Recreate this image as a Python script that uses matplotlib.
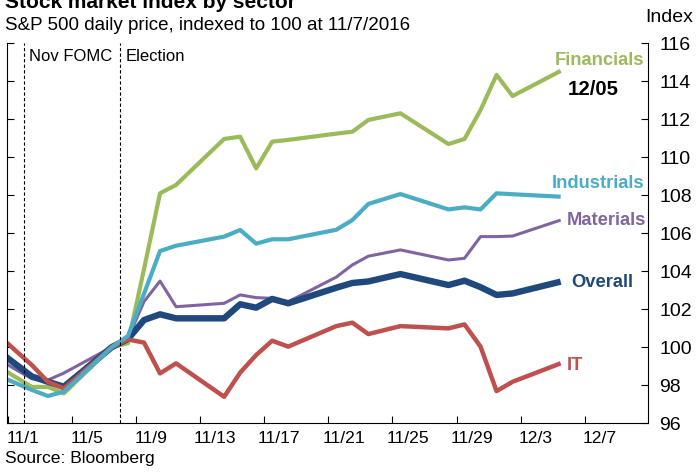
import matplotlib
matplotlib.use("Agg")
import matplotlib.pyplot as plt
import pandas as pd

plt.rcParams['font.family'] = ['Liberation Sans', 'DejaVu Sans']

# trading days, S&P 500 sector indices (100 = 11/7/2016)
dates = ["2016-10-31", "2016-11-01", "2016-11-02", "2016-11-03", "2016-11-04",
         "2016-11-07", "2016-11-08", "2016-11-09", "2016-11-10", "2016-11-11",
         "2016-11-14", "2016-11-15", "2016-11-16", "2016-11-17", "2016-11-18",
         "2016-11-21", "2016-11-22", "2016-11-23", "2016-11-25", "2016-11-28",
         "2016-11-29", "2016-11-30", "2016-12-01", "2016-12-02", "2016-12-05"]

financials = [98.92, 98.41, 97.90, 97.90, 97.56, 100.0, 100.20, 104.10, 108.09, 108.53,
              110.95, 111.07, 109.40, 110.81, 110.90, 111.23, 111.33, 111.95, 112.30, 110.68,
              110.95, 112.47, 114.32, 113.21, 114.53]
industrials = [98.46, 98.10, 97.74, 97.42, 97.65, 100.0, 100.58, 102.80, 105.05, 105.33,
               105.81, 106.16, 105.44, 105.67, 105.67, 106.17, 106.68, 107.53, 108.05, 107.24,
               107.35, 107.24, 108.09, 108.04, 107.91]
materials = [99.32, 98.81, 98.33, 98.26, 98.63, 100.0, 100.46, 102.39, 103.47, 102.12,
             102.30, 102.74, 102.60, 102.56, 102.38, 103.68, 104.32, 104.78, 105.11, 104.58,
             104.67, 105.81, 105.81, 105.84, 106.68]
overall = [99.73, 99.09, 98.45, 98.17, 97.91, 100.0, 100.42, 101.42, 101.72, 101.51,
           101.51, 102.25, 102.07, 102.53, 102.30, 103.12, 103.37, 103.45, 103.84, 103.26,
           103.49, 103.15, 102.74, 102.82, 103.44]
it = [100.56, 99.80, 99.05, 98.17, 97.82, 100.0, 100.40, 100.23, 98.61, 99.14,
      97.38, 98.65, 99.58, 100.33, 100.02, 101.10, 101.28, 100.68, 101.10, 100.98,
      101.19, 100.02, 97.68, 98.17, 99.14]

tick_labels = ["11/1", "11/5", "11/9", "11/13", "11/17", "11/21", "11/25", "11/29", "12/3", "12/7"]
y_ticks = [96, 98, 100, 102, 104, 106, 108, 110, 112, 114, 116]
events = {"Nov FOMC": "2016-11-02", "Election": "2016-11-08"}

start = pd.Timestamp("2016-11-01")
x = (pd.to_datetime(dates) - start) / pd.Timedelta(days=1) + 0.5
tick_x = [(pd.Timestamp("2016/" + t) - start).days for t in tick_labels]

fig = plt.figure(figsize=(6.96, 4.74), dpi=100)
ax = fig.add_axes([7 / 696, 1 - 423 / 474, 641 / 696, 380 / 474])

green, cyan, purple, navy, red = '#9BBB59', '#4BACC6', '#8064A2', '#1F497D', '#C0504D'
ax.plot(x, materials, color=purple, lw=2.2, solid_capstyle='butt')
ax.plot(x, financials, color=green, lw=3.0, solid_capstyle='butt')
ax.plot(x, overall, color=navy, lw=4.6, solid_capstyle='butt')
ax.plot(x, it, color=red, lw=3.2, solid_capstyle='butt')
ax.plot(x, industrials, color=cyan, lw=3.0, solid_capstyle='butt')

for name, d in events.items():
    ex = (pd.Timestamp(d) - start).days
    ax.axvline(ex, color='black', lw=0.8, ls=(0, (3, 2)))
    ax.annotate(name, xy=(ex, 1), xycoords=('data', 'axes fraction'),
                xytext=(4, -13), textcoords='offset points', va='baseline',
                fontsize=12)

ax.set_xlim(-0.05, 39.95)
ax.set_ylim(96, 116)

ax.set_xticks(tick_x)
ax.set_xticklabels([])
ax.set_xticks([t + 0.95 for t in tick_x], minor=True)
ax.set_xticklabels(tick_labels, minor=True, fontsize=12.6)
ax.tick_params(axis='x', which='major', direction='in', length=5, width=0.8)
ax.tick_params(axis='x', which='minor', length=0, pad=6)

ax.set_yticks(y_ticks)
ax.tick_params(axis='y', direction='in', length=5, width=0.8, left=True, right=True,
               labelleft=False, labelright=True, labelsize=14, pad=8)
ax.spines['top'].set_visible(False)
for s in ['left', 'right', 'bottom']:
    ax.spines[s].set_linewidth(0.8)

# series labels at the right end
ax.text(39.7, 114.84, "Financials", color=green, fontsize=13.2, fontweight='bold', ha='right', va='baseline')
ax.text(38.1, 113.26, "12/05", color='black', fontsize=14.7, fontweight='bold', ha='right', va='baseline')
ax.text(39.75, 108.35, "Industrials", color=cyan, fontsize=13.2, fontweight='bold', ha='right', va='baseline')
ax.text(39.85, 106.42, "Materials", color=purple, fontsize=13.2, fontweight='bold', ha='right', va='baseline')
ax.text(39.0, 103.17, "Overall", color=navy, fontsize=13.2, fontweight='bold', ha='right', va='baseline')
ax.text(35.9, 98.79, "IT", color=red, fontsize=13.2, fontweight='bold', ha='right', va='baseline')

fig.text(5 / 696, 1 - 8.5 / 474, "Stock market index by sector", fontsize=15, fontweight='bold', va='baseline')
fig.text(5 / 696, 1 - 30.5 / 474, "S&P 500 daily price, indexed to 100 at 11/7/2016", fontsize=13.5, va='baseline')
fig.text(645 / 696, 1 - 22 / 474, "Index", fontsize=14, va='baseline')
fig.text(5 / 696, 1 - 463 / 474, "Source: Bloomberg", fontsize=12.6, va='baseline')

fig.savefig("out.png", dpi=100)
